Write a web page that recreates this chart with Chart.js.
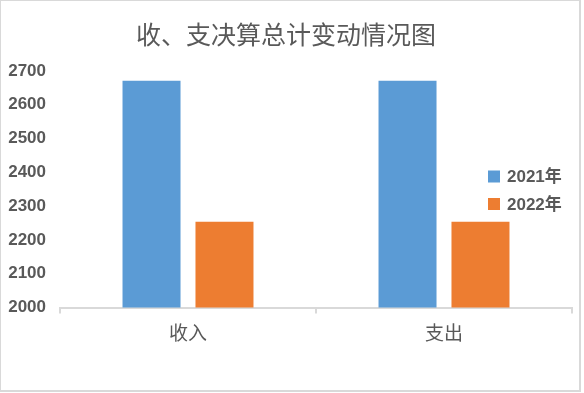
<!DOCTYPE html>
<html>
<head>
<meta charset="utf-8">
<script src="https://cdn.jsdelivr.net/npm/chart.js@4"></script>
<style>
  body { margin: 0; background: #fff; }
  #wrap { position: relative; width: 584px; height: 393px; }
  #frame { position: absolute; left: 0; top: 0; width: 581px; height: 392px; box-sizing: border-box;
           border-style: solid; border-color: #d9d9d9; border-width: 1px 2px 2px 1px; pointer-events: none; }
</style>
</head>
<body>
<div id="wrap">
  <canvas id="chart" width="584" height="393"></canvas>
  <div id="frame"></div>
</div>
<script>
// datos del grafico
const categorias = ['收入', '支出'];
const series = ['2021年', '2022年'];
const valores2021 = [2671, 2671];
const valores2022 = [2254, 2254];
const colores = ['#5b9bd5', '#ed7d31'];
const titulo = '收、支决算总计变动情况图';

const grisTexto = '#595959';
const grisLinea = '#d9d9d9';

// leyenda dibujada a mano, a la derecha encima del area del grafico
const leyendaDerecha = {
    id: 'leyendaDerecha',
    afterDraw(chart) {
        const ctx = chart.ctx;
        ctx.save();
        ctx.font = 'bold 17px "Liberation Sans", "Noto Sans CJK SC"';
        ctx.textBaseline = 'middle';
        ctx.textAlign = 'left';
        chart.data.datasets.forEach((ds, i) => {
            const y = 176.5 + i * 27.5;
            ctx.fillStyle = ds.backgroundColor;
            ctx.fillRect(488, y - 6, 12, 12);
            ctx.fillStyle = grisTexto;
            ctx.fillText(ds.label, 507, y + 1);
        });
        ctx.restore();
    }
};

var ctx = document.getElementById('chart').getContext('2d');
var chart = new Chart(ctx, {
    type: 'bar',
    data: {
        labels: categorias,
        datasets: [
            {
                label: series[0],
                data: valores2021,
                backgroundColor: colores[0],
                categoryPercentage: 0.57,
                barPercentage: 0.795
            },
            {
                label: series[1],
                data: valores2022,
                backgroundColor: colores[1],
                categoryPercentage: 0.57,
                barPercentage: 0.795
            }
        ]
    },
    options: {
        responsive: false,
        animation: false,
        devicePixelRatio: 1,
        layout: { padding: { left: 0, right: 12, top: 0, bottom: 0 } },
        plugins: {
            legend: { display: false },
            tooltip: { enabled: false },
            title: {
                display: true,
                text: titulo,
                color: grisTexto,
                font: { family: '"Noto Sans CJK SC"', size: 25, weight: 'normal', lineHeight: 1.2 },
                padding: { top: 19, bottom: 22 }
            }
        },
        scales: {
            x: {
                grid: {
                    drawOnChartArea: false,
                    drawTicks: true,
                    tickLength: 6,
                    color: grisLinea,
                    lineWidth: 2,
                    offset: true
                },
                border: { display: true, color: grisLinea, width: 2 },
                ticks: {
                    color: grisTexto,
                    padding: 8,
                    font: { family: '"Noto Sans CJK SC"', size: 19 }
                },
                afterFit(scale) { scale.height = 85.5; }
            },
            y: {
                min: 2000,
                max: 2700,
                grid: { display: false, drawTicks: false },
                border: { display: false },
                ticks: {
                    stepSize: 100,
                    color: grisTexto,
                    padding: 14,
                    font: { family: '"Liberation Sans"', size: 17, weight: 'bold' },
                    callback: (v) => String(v)
                },
                afterFit(scale) { scale.width = 60; }
            }
        }
    },
    plugins: [leyendaDerecha]
});
</script>
</body>
</html>
